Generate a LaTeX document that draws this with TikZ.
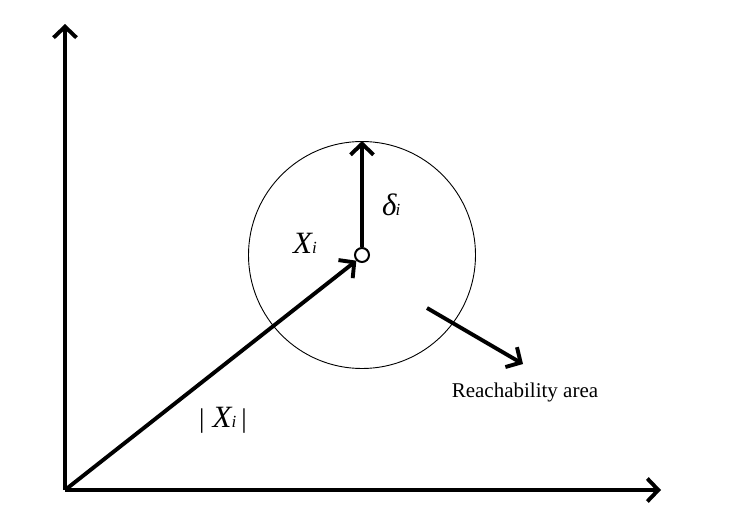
\documentclass[tikz,border=0pt]{standalone}
\usepackage{fontspec}
\setmainfont{Liberation Serif}
\usetikzlibrary{arrows.meta}
\begin{document}
\begin{tikzpicture}[x=1pt,y=-1pt,
  thickline/.style={line width=3.9pt,-{Straight Barb[length=11pt,width=23pt,line width=3.9pt]}},
  lbl/.style={font=\fontsize{31}{34}\selectfont\itshape, inner sep=0pt}]
\newcommand{\smallsub}[1]{{\fontsize{17}{19}\selectfont #1}}
\useasboundingbox (0,0) rectangle (749,530);
\coordinate (O) at (65,490);
\coordinate (ytop) at (65,24);
\coordinate (xend) at (661,490);
\draw[thickline] (O) -- (ytop);
\draw[thickline] (O) -- (xend);
\node[circle, draw, line width=0.9pt, minimum size=227pt, inner sep=0pt] (area) at (362,255) {};
\node[circle, draw, line width=2pt, fill=white, minimum size=14pt, inner sep=0pt] (c) at (362,255) {};
\draw[thickline] (O) -- (c.south west);
\draw[thickline] (c.north) -- (area.north);
\coordinate (rs) at (427,308);
\coordinate (re) at (523,364);
\draw[thickline] (rs) -- (re);
\node[font=\fontsize{21}{24}\selectfont, inner sep=0pt] (ra) at (525,392) {Reachability area};
\node[lbl, anchor=base west] (xi) at (293,253) {X\smallsub{i}};
\node[lbl, anchor=base west] (di) at (382,215) {δ\kern-1pt\smallsub{i}};
\node[lbl, anchor=base west] (nx) at (199,427) {{\upshape\fontsize{27}{30}\selectfont|}\kern8pt X\smallsub{i}\kern5pt{\upshape\fontsize{27}{30}\selectfont|}};
\end{tikzpicture}
\end{document}
